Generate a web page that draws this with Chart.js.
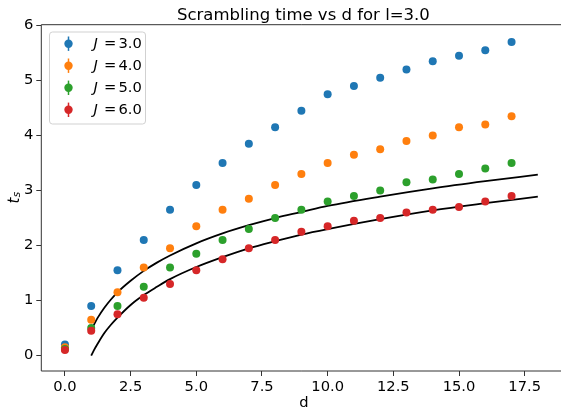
<!DOCTYPE html>
<html>
<head>
<meta charset="utf-8">
<script src="https://cdn.jsdelivr.net/npm/chart.js@4.4.1/dist/chart.umd.min.js"></script>
<style>
  html, body { margin: 0; padding: 0; background: #fff; overflow: hidden; }
  #c { display: block; }
</style>
</head>
<body>
<canvas id="c" width="561" height="408"></canvas>
<script>
// Scrambling time t_s against distance d, one series per coupling J (l = 3.0)
const dValues = [0, 1, 2, 3, 4, 5, 6, 7, 8, 9, 10, 11, 12, 13, 14, 15, 16, 17];
const tsJ3 = [0.20, 0.90, 1.55, 2.10, 2.65, 3.10, 3.50, 3.85, 4.15, 4.45, 4.75, 4.90, 5.05, 5.20, 5.35, 5.45, 5.55, 5.70];
const tsJ4 = [0.15, 0.65, 1.15, 1.60, 1.95, 2.35, 2.65, 2.85, 3.10, 3.30, 3.50, 3.65, 3.75, 3.90, 4.00, 4.15, 4.20, 4.35];
const tsJ5 = [0.12, 0.50, 0.90, 1.25, 1.60, 1.85, 2.10, 2.30, 2.50, 2.65, 2.80, 2.90, 3.00, 3.15, 3.20, 3.30, 3.40, 3.50];
const tsJ6 = [0.10, 0.45, 0.75, 1.05, 1.30, 1.55, 1.75, 1.95, 2.10, 2.25, 2.35, 2.45, 2.50, 2.60, 2.65, 2.70, 2.80, 2.90];

// Fitted curves, sampled along d
const fitD     = [1, 1.1, 1.25, 1.5, 1.75, 2, 2.5, 3, 3.5, 4, 5, 6, 7, 8, 9, 10, 12, 14, 16, 18];
const fitUpper = [0.47, 0.56, 0.69, 0.87, 1.02, 1.15, 1.36, 1.54, 1.69, 1.82, 2.04, 2.22, 2.37, 2.50, 2.61, 2.72, 2.89, 3.04, 3.17, 3.29];
const fitLower = [0.00, 0.095, 0.22, 0.41, 0.56, 0.69, 0.92, 1.10, 1.25, 1.39, 1.61, 1.79, 1.95, 2.08, 2.20, 2.30, 2.48, 2.64, 2.77, 2.89];

const seriesLabels = ['3.0', '4.0', '5.0', '6.0'];
const seriesColors = ['#1f77b4', '#ff7f0e', '#2ca02c', '#d62728'];
const seriesValues = [tsJ3, tsJ4, tsJ5, tsJ6];

const xTicks = [0, 2.5, 5, 7.5, 10, 12.5, 15, 17.5];
const yTicks = [0, 1, 2, 3, 4, 5, 6];

const FONT = "'DejaVu Sans', sans-serif";
const FS = 14.7;
const AXIS = '#333333';

const zip = (xs, ys) => xs.map((x, i) => ({ x: x, y: ys[i] }));

const scatterSets = seriesValues.map((vals, i) => ({
  type: 'scatter',
  label: seriesLabels[i],
  data: zip(dValues, vals),
  backgroundColor: seriesColors[i],
  borderWidth: 0,
  pointRadius: 4,
  pointHoverRadius: 4,
  order: 4 - i
}));

const fitSets = [fitUpper, fitLower].map(vals => ({
  type: 'line',
  label: '',
  data: zip(fitD, vals),
  borderColor: '#000',
  borderWidth: 1.8,
  pointRadius: 0,
  fill: false,
  cubicInterpolationMode: 'monotone',
  order: 10
}));

const decorations = {
  id: 'decorations',
  afterDatasetsDraw(chart) {
    const ctx = chart.ctx;
    const a = chart.chartArea;
    ctx.save();
    // spines: top, left and bottom; the axes box runs past the right edge
    ctx.strokeStyle = AXIS;
    ctx.lineWidth = 1;
    ctx.beginPath();
    ctx.moveTo(chart.width, a.top);
    ctx.lineTo(a.left, a.top);
    ctx.lineTo(a.left, a.bottom);
    ctx.lineTo(chart.width, a.bottom);
    ctx.stroke();
    ctx.restore();
  },
  afterDraw(chart) {
    const ctx = chart.ctx;
    ctx.save();
    ctx.fillStyle = '#000';

    // title, centred on the full axes box
    ctx.font = '16.5px ' + FONT;
    ctx.textAlign = 'center';
    ctx.textBaseline = 'alphabetic';
    ctx.fillText('Scrambling time vs d for l=3.0', 303.4, 20);

    // x axis label
    ctx.font = FS + 'px ' + FONT;
    ctx.fillText('d', 304, 406.5);

    // y axis label: t with subscript s, rotated
    ctx.save();
    ctx.translate(18.5, 203.5);
    ctx.rotate(-Math.PI / 2);
    ctx.textAlign = 'left';
    ctx.font = 'italic 15px ' + FONT;
    ctx.fillText('t', 0, 0);
    const tw = ctx.measureText('t').width;
    ctx.font = 'italic 10.5px ' + FONT;
    ctx.fillText('s', tw + 0.3, 1.8);
    ctx.restore();

    // legend
    const lx = 49.5, ly = 32, lw = 96, lh = 92;
    ctx.beginPath();
    ctx.roundRect(lx, ly, lw, lh, 3);
    ctx.fillStyle = 'rgba(255,255,255,0.8)';
    ctx.fill();
    ctx.strokeStyle = 'rgba(204,204,204,0.9)';
    ctx.lineWidth = 1;
    ctx.stroke();

    const rows = [43.7, 65.7, 87.8, 109.8];
    scatterSets.forEach((ds, i) => {
      const y = rows[i];
      const mx = 68.5;
      ctx.strokeStyle = ds.backgroundColor;
      ctx.lineWidth = 1.5;
      ctx.beginPath();
      ctx.moveTo(mx, y - 7.2);
      ctx.lineTo(mx, y + 7.2);
      ctx.stroke();
      ctx.fillStyle = ds.backgroundColor;
      ctx.beginPath();
      ctx.arc(mx, y, 4.2, 0, Math.PI * 2);
      ctx.fill();

      ctx.fillStyle = '#000';
      ctx.textBaseline = 'middle';
      ctx.textAlign = 'left';
      ctx.font = 'italic ' + FS + 'px ' + FONT;
      ctx.fillText('J', 93.5, y);
      ctx.font = FS + 'px ' + FONT;
      ctx.fillText('=', 104, y);
      ctx.fillText(ds.label, 118.5, y);
    });
    ctx.restore();
  }
};

new Chart(document.getElementById('c'), {
  data: { datasets: scatterSets.concat(fitSets) },
  options: {
    responsive: false,
    devicePixelRatio: 1,
    animation: false,
    events: [],
    layout: { padding: { top: 24.7, right: 0, left: 0, bottom: 0 } },
    plugins: { legend: { display: false }, tooltip: { enabled: false }, title: { display: false } },
    scales: {
      x: {
        type: 'linear',
        min: -0.9,
        max: 18.73,
        afterBuildTicks: s => { s.ticks = xTicks.map(v => ({ value: v })); },
        afterFit: s => { s.height = 408 - 371; },
        ticks: {
          callback: v => Number(v).toFixed(1),
          font: { family: FONT, size: FS },
          color: '#000',
          padding: 2,
          maxRotation: 0,
          autoSkip: false
        },
        grid: { drawOnChartArea: false, drawTicks: true, tickLength: 5, tickColor: AXIS, tickWidth: 1 },
        border: { display: false }
      },
      y: {
        type: 'linear',
        min: -0.28,
        max: 6.015,
        afterBuildTicks: s => { s.ticks = yTicks.map(v => ({ value: v })); },
        afterFit: s => { s.width = 41.3; },
        ticks: {
          callback: v => String(v),
          font: { family: FONT, size: FS },
          color: '#000',
          padding: 3
        },
        grid: { drawOnChartArea: false, drawTicks: true, tickLength: 5, tickColor: AXIS, tickWidth: 1 },
        border: { display: false }
      }
    }
  },
  plugins: [decorations]
});
</script>
</body>
</html>
